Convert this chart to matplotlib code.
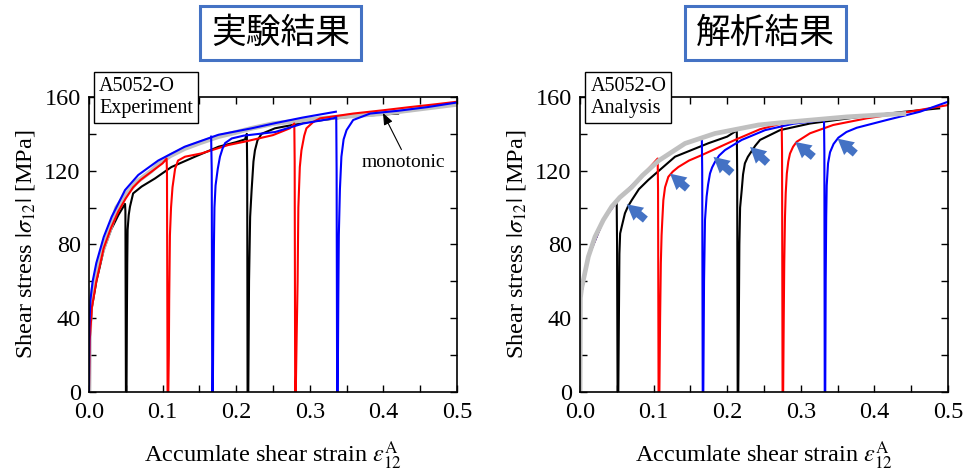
import matplotlib
matplotlib.use('Agg')
import matplotlib.pyplot as plt
from matplotlib.patches import Rectangle
from matplotlib.ticker import MultipleLocator

plt.rcParams['font.family'] = ['Liberation Serif', 'DejaVu Serif']
plt.rcParams['mathtext.fontset'] = 'stix'

# ---------------- experiment (left) ----------------
exp_mono_x = [0, 0.0005, 0.002, 0.005, 0.008, 0.012, 0.017, 0.022, 0.03, 0.0376, 0.05, 0.065, 0.085,
              0.094, 0.11, 0.13, 0.15, 0.176, 0.2, 0.221, 0.25, 0.3, 0.35, 0.4, 0.45, 0.5]
exp_mono_y = [0, 30, 45, 55, 61, 68, 75, 81, 90, 100, 107, 114, 120,
              123.5, 128, 132, 135, 138.5, 140.8, 143, 145.5, 147.8, 149.5, 151, 153.5, 156]

exp_black_x = [0, 0.001, 0.004, 0.01, 0.02, 0.03, 0.04, 0.049, 0.0495, 0.0502, 0.0510, 0.0515, 0.052,
               0.0525, 0.054, 0.0557, 0.06, 0.0715, 0.0897, 0.112, 0.144, 0.176, 0.2, 0.212, 0.2145,
               0.215, 0.2155, 0.2165, 0.2175, 0.219, 0.221, 0.2235, 0.2255, 0.229, 0.2345, 0.2527,
               0.30, 0.3546, 0.40, 0.42]
exp_black_y = [0, 28, 46, 60, 77, 88, 96, 102, 98, 0, 0, 40, 70,
               88, 96, 100.5, 107.7, 111.4, 115.8, 122, 127.6, 133, 135.5, 137, 140,
               120, 0, 0, 60, 95, 109.5, 125, 131, 136.5, 140, 143,
               146.6, 149.3, 150.5, 151]

exp_red_x = [0, 0.001, 0.004, 0.01, 0.02, 0.03, 0.04, 0.05, 0.06, 0.07, 0.08, 0.09, 0.1, 0.1055,
             0.106, 0.1068, 0.1078, 0.1085, 0.109, 0.110, 0.1115, 0.1135, 0.117, 0.121, 0.1305, 0.153,
             0.189, 0.212, 0.25, 0.273, 0.279, 0.2795, 0.2802, 0.281, 0.2822, 0.2835, 0.2845, 0.2865,
             0.2887, 0.2925, 0.2955, 0.305, 0.314, 0.359, 0.40, 0.436, 0.47, 0.5]
exp_red_y = [0, 28, 46, 60, 78, 89, 98, 105, 111, 115, 118, 121, 124, 126.6,
             118, 0, 0, 20, 50, 85, 100, 111, 121, 125.5, 127.6, 129.4,
             133.9, 135.8, 139.3, 143, 145.6, 125, 0, 0, 30, 60, 100, 122,
             131, 139, 143, 146.5, 148.4, 151, 152.8, 154.5, 156, 157.4]

exp_blue_up_x = [0, 0.0005, 0.002, 0.005, 0.01, 0.02, 0.0308, 0.049, 0.067, 0.094, 0.13, 0.176,
                 0.221, 0.253, 0.29, 0.3355]
exp_blue_up_y = [0, 35, 50, 60, 70, 84, 95, 109.5, 117.7, 125.5, 133, 139.5,
                 143, 145.8, 148.8, 152]

exp_blue_x = [0.166, 0.1668, 0.1675, 0.1683, 0.169, 0.1698, 0.1705, 0.172, 0.175, 0.178, 0.1815,
              0.185, 0.194, 0.21, 0.253, 0.291, 0.332, 0.336, 0.3365, 0.3372, 0.338, 0.3388, 0.3395,
              0.341, 0.343, 0.346, 0.35, 0.359, 0.382, 0.42, 0.46, 0.5]
exp_blue_y = [138.5, 120, 0, 0, 40, 80, 100, 112, 121, 127.6, 132,
              135, 137.5, 139, 141, 145.6, 148.4, 149, 120, 0, 0, 50, 85,
              110, 127.6, 137, 142, 147.5, 151, 152.5, 154.5, 157]

# ---------------- analysis (right) ----------------
ana_mono_x = [0, 0.0005, 0.002, 0.0045, 0.0113, 0.0204, 0.0317, 0.043, 0.054, 0.07, 0.085, 0.107,
              0.1427, 0.1834, 0.2423, 0.272, 0.3627, 0.44]
ana_mono_y = [0, 51, 56, 60.7, 73.4, 84.2, 93.3, 100.5, 105.5, 111, 117.5, 125.5,
              134.8, 140.2, 144.8, 146, 149.2, 151]

ana_black_x = [0, 0.0005, 0.0113, 0.0317, 0.043, 0.0498, 0.0503, 0.051, 0.052, 0.0528, 0.0535,
               0.0545, 0.0566, 0.061, 0.065, 0.0702, 0.08, 0.0928, 0.1291, 0.1744, 0.2, 0.213,
               0.2135, 0.2142, 0.215, 0.2158, 0.2165, 0.2175, 0.2197, 0.2215, 0.224, 0.228, 0.233,
               0.238, 0.2446, 0.2717, 0.3125, 0.38, 0.439, 0.4846, 0.488]
ana_black_y = [0, 51, 73.4, 93.3, 100.5, 103, 80, 0, 0, 40, 75,
               86, 89.6, 96.9, 100.5, 104, 110, 115, 127.6, 134.9, 138.5, 141.8,
               120, 0, 0, 40, 80, 100, 109.5, 118, 124, 127.5, 130.5,
               133.5, 136.7, 142, 145.6, 149.2, 151.9, 153.7, 153.8]

ana_red_x = [0, 0.0005, 0.0113, 0.0317, 0.054, 0.085, 0.1055, 0.106, 0.1067, 0.1078, 0.1088,
             0.1098, 0.1108, 0.1118, 0.1132, 0.1155, 0.12, 0.126, 0.1336, 0.148, 0.165, 0.2106,
             0.2446, 0.274, 0.2745, 0.2752, 0.276, 0.2768, 0.2775, 0.2785, 0.2795, 0.281, 0.283,
             0.2853, 0.2895, 0.2944, 0.3125, 0.344, 0.3895, 0.448, 0.5]
ana_red_y = [0, 51, 73.4, 93.3, 105.5, 117.5, 126.6, 110, 0, 0, 40,
             70, 85, 93.3, 104, 111, 116.7, 119.5, 122, 125.5, 128.4, 136.7,
             142.5, 145.6, 130, 0, 0, 40, 70, 95, 108, 118.5, 125,
             129.3, 133, 135.7, 140.3, 144.8, 148.4, 152, 155.6]

ana_blue_x = [0, 0.0005, 0.0113, 0.0317, 0.054, 0.085, 0.107, 0.1427, 0.1655, 0.166, 0.1667,
              0.1675, 0.1685, 0.1698, 0.172, 0.174, 0.1766, 0.1795, 0.1834, 0.189, 0.197, 0.2197,
              0.2514, 0.29, 0.3315, 0.332, 0.3325, 0.3332, 0.3338, 0.3345, 0.3352, 0.337, 0.3397,
              0.3445, 0.351, 0.362, 0.376, 0.4167, 0.462, 0.5]
ana_blue_y = [0, 51, 73.4, 93.3, 105.5, 117.5, 125.5, 134.8, 137.5, 120, 0,
              0, 60, 93.3, 106, 112.5, 118.5, 121.8, 124.8, 128.2, 131.2, 136.7,
              142, 145.5, 147.5, 130, 0, 0, 60, 95, 112, 124, 130,
              134.5, 137.9, 141, 143.3, 147.5, 152, 157.4]

# blue arrows on the analysis plot: (tail x, tail y, head x, head y)
arrow_tail_x = [0.0888, 0.146, 0.2063, 0.2548, 0.317, 0.374]
arrow_tail_y = [93.5, 110.3, 118.8, 124.2, 127.5, 129.3]
arrow_head_x = [0.0635, 0.1224, 0.1814, 0.231, 0.2924, 0.35]
arrow_head_y = [101.8, 118.4, 127.5, 132.9, 135.6, 137.4]

GRAY = '#c0c0c0'
ARROW_BLUE = '#4472c4'

fig = plt.figure(figsize=(9.64, 4.70), dpi=100)
ax1 = fig.add_axes([0.0923, 0.166, 0.3817, 0.6277])
ax2 = fig.add_axes([0.6017, 0.166, 0.3817, 0.6277])

# experiment curves
ax1.plot(exp_black_x, exp_black_y, color='black', lw=1.5)
ax1.plot(exp_mono_x, exp_mono_y, color=GRAY, lw=3.4)
ax1.plot(exp_red_x, exp_red_y, color='red', lw=1.5)
ax1.plot(exp_blue_up_x, exp_blue_up_y, color='blue', lw=1.5)
ax1.plot(exp_blue_x, exp_blue_y, color='blue', lw=1.5)

ax1.annotate('monotonic', xy=(0.3995, 151.3), xytext=(0.4273, 124.7),
             ha='center', va='center', fontsize=14,
             arrowprops=dict(arrowstyle='-|>,head_length=0.5,head_width=0.2', color='black',
                             lw=0.8, shrinkA=1, shrinkB=0, relpos=(0.5, 1.0)))

# analysis curves
ax2.plot(ana_black_x, ana_black_y, color='black', lw=1.5)
ax2.plot(ana_red_x, ana_red_y, color='red', lw=1.5)
ax2.plot(ana_blue_x, ana_blue_y, color='blue', lw=1.5)
ax2.plot(ana_mono_x, ana_mono_y, color=GRAY, lw=3.4)

for tx, ty, hx, hy in zip(arrow_tail_x, arrow_tail_y, arrow_head_x, arrow_head_y):
    ax2.annotate('', xy=(hx, hy), xytext=(tx, ty),
                 arrowprops=dict(arrowstyle='simple,head_length=0.7,head_width=0.75,tail_width=0.35',
                                 fc=ARROW_BLUE, ec='none', mutation_scale=16,
                                 shrinkA=0, shrinkB=0))

# common axes styling
for ax, tag in [(ax1, 'A5052-O\nExperiment'), (ax2, 'A5052-O\nAnalysis')]:
    ax.set_xlim(0, 0.5)
    ax.set_ylim(0, 160)
    ax.xaxis.set_major_locator(MultipleLocator(0.1))
    ax.xaxis.set_minor_locator(MultipleLocator(0.05))
    ax.yaxis.set_major_locator(MultipleLocator(40))
    ax.yaxis.set_minor_locator(MultipleLocator(20))
    ax.tick_params(which='both', direction='in', top=True, right=True, length=5, width=1,
                   labelsize=17.5)
    ax.tick_params(axis='x', pad=7)
    ax.tick_params(axis='y', pad=6)
    for sp in ax.spines.values():
        sp.set_linewidth(1.2)
    ax.set_xlabel(r'Accumlate shear strain $\varepsilon_{12}^{\mathrm{A}}$', fontsize=17.5, labelpad=12)
    ax.set_ylabel(r'Shear stress $|\sigma_{12}|$ [MPa]', fontsize=17.5, labelpad=5)
    ax.text(0.028, 1.067, tag, transform=ax.transAxes, ha='left', va='top', fontsize=14.5,
            linespacing=1.22, zorder=10, clip_on=False,
            bbox=dict(boxstyle='square,pad=0.25', fc='white', ec='black', lw=1))

# title boxes
for x0, title in [(200, '実験結果'), (685, '解析結果')]:
    fig.add_artist(Rectangle((x0 / 964, (470 - 60) / 470), 161 / 964, 54 / 470,
                             transform=fig.transFigure, fc='white', ec=ARROW_BLUE, lw=2.2))
    fig.text((x0 + 80.5) / 964, (470 - 33) / 470, title, ha='center', va='center',
             fontsize=25, family=['Noto Sans CJK JP'])

fig.savefig('out.png', dpi=100)
